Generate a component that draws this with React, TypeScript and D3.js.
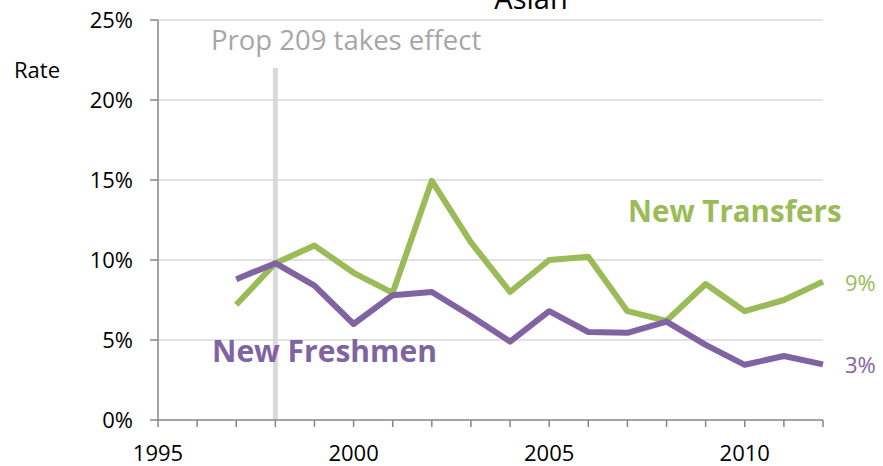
import React from "react";
import * as d3 from "d3";

const years = [1997, 1998, 1999, 2000, 2001, 2002, 2003, 2004, 2005, 2006, 2007, 2008, 2009, 2010, 2011, 2012];
const freshmen = [8.8, 9.8, 8.4, 6.0, 7.8, 8.0, 6.5, 4.9, 6.8, 5.5, 5.45, 6.15, 4.7, 3.45, 4.0, 3.48];
const transfers = [7.2, 9.8, 10.9, 9.2, 7.95, 14.95, 11.1, 8.0, 10.0, 10.2, 6.8, 6.2, 8.5, 6.8, 7.5, 8.65];
const yTicks = [0, 5, 10, 15, 20, 25];
const xTickLabels = [1995, 2000, 2005, 2010];
const xTickYears = d3.range(1995, 2013);

const W = 883, H = 466;
const FONT = "'Open Sans', sans-serif";
const GREEN = "#9bbb59";
const PURPLE = "#8064a2";

export default function App() {
  const x = d3.scaleLinear().domain([1995, 2012]).range([158, 823]);
  const y = d3.scaleLinear().domain([0, 25]).range([420, 20]);
  const line = d3.line<number>().x((_, i) => x(years[i])).y((d) => y(d));

  return (
    <svg width={W} height={H} style={{ position: "absolute", left: 0, top: 0, background: "#fff" }}>
      <text x={531} y={9} textAnchor="middle" fontFamily={FONT} fontSize={29} fill="#000">Asian</text>
      {yTicks.map((t) => (
        <g key={t}>
          {t > 0 && <line x1={x(1995)} x2={x(2012)} y1={y(t)} y2={y(t)} stroke="#d9d9d9" strokeWidth={1.5} />}
          <line x1={150} x2={158} y1={y(t)} y2={y(t)} stroke="#868686" strokeWidth={1.5} />
          <text x={133} y={y(t) + 8} textAnchor="end" fontFamily={FONT} fontSize={22} fill="#000">{t}%</text>
        </g>
      ))}
      <text x={14} y={78} fontFamily={FONT} fontSize={22} fill="#000">Rate</text>
      <line x1={x(1998)} x2={x(1998)} y1={68} y2={420} stroke="#d9d9d9" strokeWidth={5} />
      <text x={211} y={50} fontFamily={FONT} fontSize={27.5} fill="#a6a6a6">Prop 209 takes effect</text>
      <line x1={158} x2={158} y1={20} y2={420} stroke="#868686" strokeWidth={1.5} />
      <line x1={158} x2={823} y1={420} y2={420} stroke="#868686" strokeWidth={1.5} />
      {xTickYears.map((t) => (
        <line key={t} x1={x(t)} x2={x(t)} y1={420} y2={427} stroke="#868686" strokeWidth={1.5} />
      ))}
      {xTickLabels.map((t) => (
        <text key={t} x={x(t)} y={461} textAnchor="middle" fontFamily={FONT} fontSize={22} fill="#000">{t}</text>
      ))}
      <path d={line(transfers) || ""} fill="none" stroke={GREEN} strokeWidth={6} strokeLinejoin="round" />
      <path d={line(freshmen) || ""} fill="none" stroke={PURPLE} strokeWidth={6} strokeLinejoin="round" />
      <text x={628} y={222} fontFamily={FONT} fontSize={29.5} fontWeight="bold" fill={GREEN}>New Transfers</text>
      <text x={212} y={362} fontFamily={FONT} fontSize={30} fontWeight="bold" fill={PURPLE}>New Freshmen</text>
      <text x={845} y={291} fontFamily={FONT} fontSize={22} fill={GREEN}>{Math.round(transfers[transfers.length - 1])}%</text>
      <text x={845} y={373} fontFamily={FONT} fontSize={22} fill={PURPLE}>{Math.round(freshmen[freshmen.length - 1])}%</text>
    </svg>
  );
}
